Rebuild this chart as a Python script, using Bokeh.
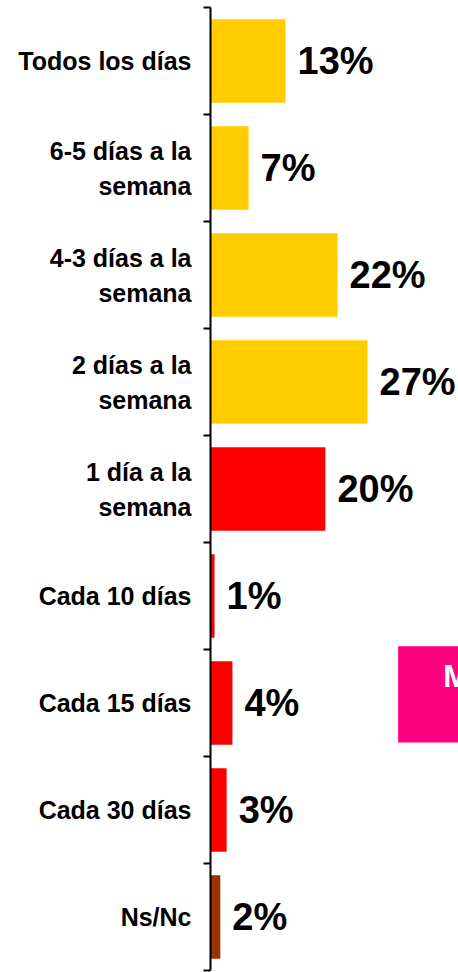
from bokeh.plotting import figure
from bokeh.models import (Range1d, LinearAxis, FixedTicker, ColumnDataSource)
from bokeh.core.properties import value
from bokeh.embed import file_html
from bokeh.resources import INLINE

categories = ["Todos los días", "6-5 días a la\nsemana", "4-3 días a la\nsemana",
              "2 días a la\nsemana", "1 día a la\nsemana", "Cada 10 días",
              "Cada 15 días", "Cada 30 días", "Ns/Nc"]
values = [13.0, 6.6, 22.0, 27.2, 19.9, 0.7, 3.8, 2.8, 1.7]
labels = ["13%", "7%", "22%", "27%", "20%", "1%", "4%", "3%", "2%"]
colors = ["#FFCC00", "#FFCC00", "#FFCC00", "#FFCC00", "#FF0000",
          "#FF0000", "#FF0000", "#FF0000", "#993300"]

# partially visible pink box (cut-off element at right edge)
box_left, box_right = 32.5, 45.0
box_bottom, box_top = 2.13, 3.03
box_text = "M"
box_text_x, box_text_y = 40.3, 2.75

FONT = "Liberation Sans"
n = len(categories)
# category slot centres, first category at the top
centers = [n - i - 0.5 for i in range(n)]

p = figure(width=458, height=972, output_backend="svg", toolbar_location=None,
           y_range=Range1d(0, n), x_range=Range1d(0, 42.96),
           x_axis_location=None, y_axis_location=None,
           min_border_left=210, min_border_top=7, min_border_bottom=2,
           min_border_right=0)
p.outline_line_color = None
p.xgrid.visible = False
p.ygrid.visible = False
p.background_fill_color = "white"
p.border_fill_color = "white"

# inner axis: line + ticks at category boundaries
tick_axis = LinearAxis(ticker=FixedTicker(ticks=list(range(n + 1))))
tick_axis.axis_line_color = "black"
tick_axis.axis_line_width = 2
tick_axis.major_tick_line_color = "black"
tick_axis.major_tick_line_width = 2
tick_axis.major_tick_out = 7
tick_axis.major_tick_in = 0
tick_axis.minor_tick_line_color = None
tick_axis.major_label_text_font_size = "0px"
tick_axis.major_label_text_color = None
tick_axis.major_label_standoff = 0
p.add_layout(tick_axis, "left")

# outer axis: category labels at slot centres
cat_axis = LinearAxis(ticker=FixedTicker(ticks=centers),
                      major_label_overrides={c: lab for c, lab in zip(centers, categories)})
cat_axis.axis_line_color = None
cat_axis.major_tick_line_color = None
cat_axis.minor_tick_line_color = None
cat_axis.major_label_standoff = 6
cat_axis.major_label_text_font = FONT
cat_axis.major_label_text_font_style = "bold"
cat_axis.major_label_text_font_size = "25px"
cat_axis.major_label_text_color = "black"
cat_axis.major_label_text_line_height = 1.25
p.add_layout(cat_axis, "left")

src = ColumnDataSource(dict(y=centers, val=values, lab=labels, col=colors))
p.hbar(y="y", right="val", left=0, height=0.78, fill_color="col",
       line_color=None, source=src)
p.text(x="val", y="y", text="lab", source=src, x_offset=12,
       text_font=value(FONT), text_font_style="bold", text_font_size="38px",
       text_baseline="middle", text_align="left", text_color="black")

p.quad(left=[box_left], right=[box_right], bottom=[box_bottom], top=[box_top],
       fill_color="#FF0080", line_color=None)
p.text(x=[box_text_x], y=[box_text_y], text=[box_text],
       text_font=value(FONT), text_font_style="bold", text_font_size="31px",
       text_baseline="middle", text_align="left", text_color="white")

open("out.html", "w").write(file_html(p, INLINE))
